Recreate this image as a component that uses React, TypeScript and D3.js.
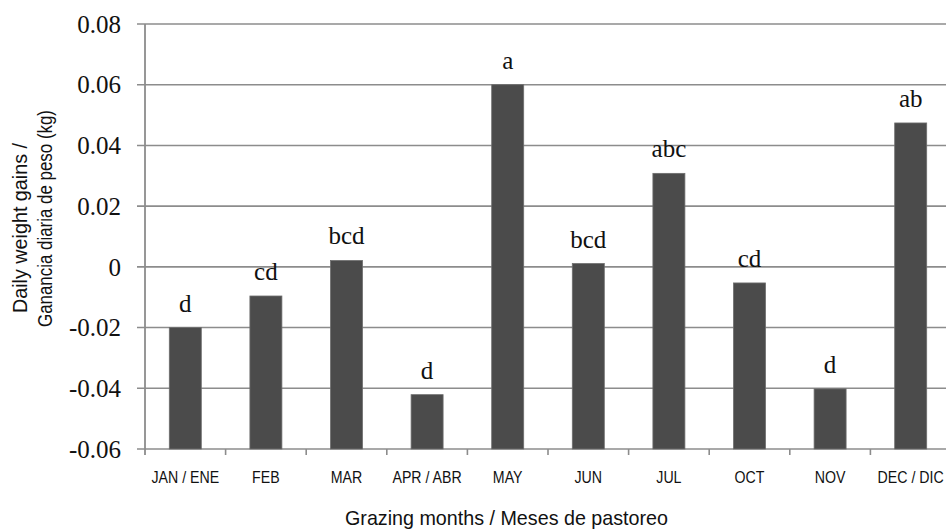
import React from "react";
import * as d3 from "d3";

const categories = ["JAN / ENE", "FEB", "MAR", "APR / ABR", "MAY", "JUN", "JUL", "OCT", "NOV", "DEC / DIC"];
const values = [-0.02, -0.0096, 0.0021, -0.0421, 0.06, 0.0011, 0.0308, -0.0053, -0.0402, 0.0474];
const letters = ["d", "cd", "bcd", "d", "a", "bcd", "abc", "cd", "d", "ab"];
const yTicks = [-0.06, -0.04, -0.02, 0, 0.02, 0.04, 0.06, 0.08];

const W = 946;
const H = 531;
const left = 145;
const top = 24;
const bottom = 449;
const band = 80.6;
const sans = "'Liberation Sans', Arial, sans-serif";
const serif = "'Liberation Serif', 'Times New Roman', serif";

export default function App() {
  const x = d3.scaleBand<string>().domain(categories).range([left, left + band * categories.length]).paddingInner(0).paddingOuter(0);
  const y = d3.scaleLinear().domain([-0.06, 0.08]).range([bottom, top]);
  const bw = 32;
  const fmt = (v: number) => (v === 0 ? "0" : d3.format(".2f")(v).replace("\u2212", "-"));
  const grid = "#8c8c8c";
  return (
    <svg width={W} height={H} style={{ position: "absolute", left: 0, top: 0, background: "#fff" }}>
      {yTicks.map((t) => (
        <g key={t}>
          <line x1={left - 8} x2={W} y1={y(t)} y2={y(t)} stroke={grid} strokeWidth={1.6} />
          <text x={121} y={y(t)} dy="0.35em" textAnchor="end" fontFamily={serif} fontSize={25} fill="#111">
            {fmt(t)}
          </text>
        </g>
      ))}
      <line x1={left} x2={left} y1={top} y2={bottom + 6} stroke={grid} strokeWidth={1.8} />
      {categories.map((c) => (
        <line key={"t" + c} x1={(x(c) as number) + band} x2={(x(c) as number) + band} y1={bottom} y2={bottom + 6} stroke={grid} strokeWidth={1.6} />
      ))}
      {categories.map((c, i) => {
        const cx = (x(c) as number) + x.bandwidth() / 2;
        const yt = y(values[i]);
        return (
          <g key={c}>
            <rect x={cx - bw / 2} y={yt} width={bw} height={bottom - yt} fill="#4b4b4b" stroke="#6e6e6e" strokeWidth={0.8} />
            <text x={cx} y={yt - 16} textAnchor="middle" fontFamily={serif} fontSize={25} fill="#111">
              {letters[i]}
            </text>
            <text transform={`translate(${cx},483) scale(0.86,1)`} textAnchor="middle" fontFamily={sans} fontSize={16.5} fill="#111">
              {c}
            </text>
          </g>
        );
      })}
      <text x={345} y={525} textLength={323} lengthAdjust="spacingAndGlyphs" fontFamily={sans} fontSize={21} fill="#111">
        Grazing months / Meses de pastoreo
      </text>
      <text transform="translate(27,313) rotate(-90)" textLength={170} lengthAdjust="spacingAndGlyphs" fontFamily={sans} fontSize={20} fill="#111">
        Daily weight gains /
      </text>
      <text transform="translate(52,327) rotate(-90)" textLength={217} lengthAdjust="spacingAndGlyphs" fontFamily={sans} fontSize={20} fill="#111">
        Ganancia diaria de peso (kg)
      </text>
    </svg>
  );
}
